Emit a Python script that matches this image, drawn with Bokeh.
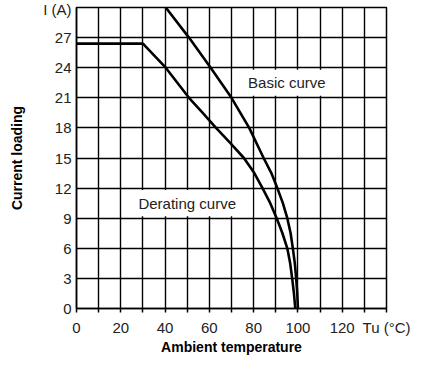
from bokeh.plotting import figure
from bokeh.models import Range1d, FixedTicker
from bokeh.embed import file_html
from bokeh.resources import INLINE
from bokeh.core.properties import value

# ---- data ----
derating_temp = [0, 30, 40.3, 50.8, 57, 63, 69.4, 75.6, 80.3, 84, 87.5, 90.4, 93, 95.2, 96.5, 97.4, 98.2, 98.8]
derating_current = [26.4, 26.4, 24, 21, 19.5, 18, 16.5, 15, 13.5, 12, 10.5, 9, 7.5, 6, 4.5, 3, 1.5, 0]

basic_temp = [40.3, 50.8, 60.6, 70, 78, 84.5, 88, 90.7, 93.2, 95.2, 96.7, 97.7, 98.6, 99.2, 99.7, 100]
basic_current = [30, 27, 24, 21, 18, 15, 13.5, 12, 10.5, 9, 7.5, 6, 4.5, 3, 1.5, 0]

x_ticks = list(range(0, 150, 10))
x_tick_labels = ["0", "", "20", "", "40", "", "60", "", "80", "", "100", "", "120", "", "Tu (°C)"]
y_ticks = list(range(0, 33, 3))
y_tick_labels = ["0", "3", "6", "9", "12", "15", "18", "21", "24", "27", "I (A)"]

curve_names = ["Basic curve", "Derating curve"]
name_x = [95, 50]
name_y = [22.5, 10.5]
box_left = [70.5, 20.5]
box_right = [119.5, 79.5]
box_bottom = [21.2, 9.2]
box_top = [23.8, 11.8]

x_title = "Ambient temperature"
y_title = "Current loading"

FONT = "Liberation Sans"

p = figure(width=422, height=358, output_backend="svg", toolbar_location=None,
           x_range=Range1d(0, 140), y_range=Range1d(0, 30),
           min_border_left=76, min_border_right=36, min_border_top=7, min_border_bottom=50)
p.background_fill_color = "white"
p.border_fill_color = "white"
p.outline_line_color = "black"
p.outline_line_width = 1.5

# axes
p.xaxis.ticker = FixedTicker(ticks=x_ticks)
p.xaxis.major_label_overrides = {t: l for t, l in zip(x_ticks, x_tick_labels)}
p.yaxis.ticker = FixedTicker(ticks=y_ticks)
p.yaxis.major_label_overrides = {t: l for t, l in zip(y_ticks, y_tick_labels)}
for ax in (p.xaxis[0], p.yaxis[0]):
    ax.axis_line_color = "black"
    ax.axis_line_width = 1.5
    ax.major_tick_line_color = "black"
    ax.major_tick_line_width = 1.5
    ax.minor_tick_line_color = None
    ax.major_label_text_font = FONT
    ax.major_label_text_font_size = "15px"
    ax.major_label_text_color = "#222222"
    ax.axis_label_text_font = FONT
    ax.axis_label_text_font_size = "14px"
    ax.axis_label_text_font_style = "bold"
    ax.axis_label_text_color = "black"
p.xaxis.major_tick_in = 0
p.xaxis.major_tick_out = 4
p.xaxis.major_label_standoff = 6
p.xaxis.axis_label = x_title
p.xaxis.axis_label_standoff = 0
p.yaxis.major_tick_in = 0
p.yaxis.major_tick_out = 0
p.yaxis.major_label_standoff = 5
p.yaxis.axis_label = y_title
p.yaxis.axis_label_standoff = 15

# grid
p.xgrid.ticker = FixedTicker(ticks=x_ticks)
p.ygrid.ticker = FixedTicker(ticks=y_ticks)
for g in (p.xgrid[0], p.ygrid[0]):
    g.grid_line_color = "black"
    g.grid_line_width = 1.4

# label boxes and texts
p.quad(left=box_left, right=box_right, bottom=box_bottom, top=box_top,
       fill_color="white", line_color=None)
p.text(x=name_x, y=name_y, text=curve_names, text_font=value(FONT),
       text_font_size="15px", text_align="center", text_baseline="middle",
       text_color="#222222")

# curves
p.line(derating_temp, derating_current, line_color="black", line_width=2.6, line_join="round")
p.line(basic_temp, basic_current, line_color="black", line_width=2.6, line_join="round")

open("out.html", "w").write(file_html(p, INLINE))
